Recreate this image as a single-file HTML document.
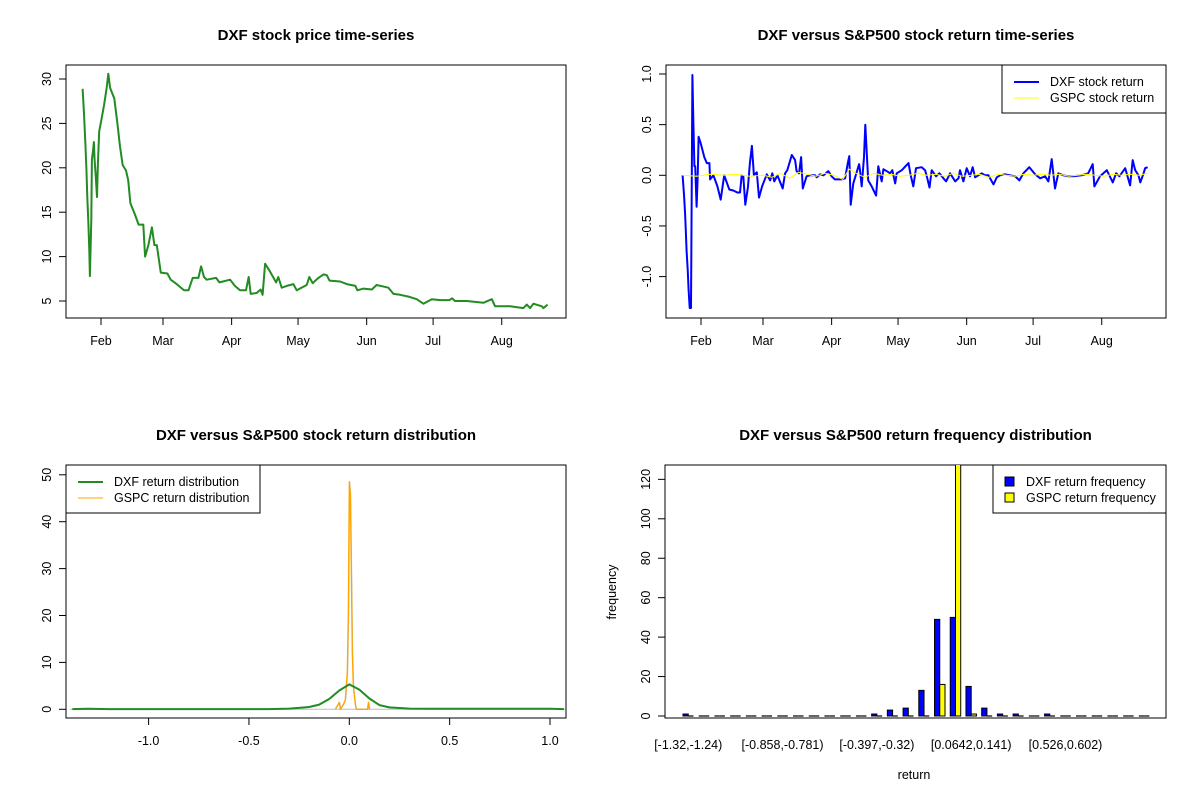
<!DOCTYPE html>
<html><head><meta charset="utf-8"><style>
html,body{margin:0;padding:0;background:#fff;}
svg{display:block;font-family:"Liberation Sans",Arial,sans-serif;}
</style></head><body>
<svg id="chart" width="1200" height="800" viewBox="0 0 1200 800"></svg>
<script>
// ---------- data ----------
const priceDays=[23.7,24.3,24.9,25.4,25.8,26.3,26.7,27,27.6,27.9,28.4,28.8,29.1,29.7,30.2,30.6,31.2,32.2,33.4,34.6,35.3,36.1,38,39.4,40.6,41.8,43.3,44.3,45.3,47.4,49,51.1,51.9,53.4,55,56.1,57.2,59,62,63.5,66.2,69.5,71.5,73.4,76,77.2,78.5,79.7,84,85.5,90.3,92.5,94.8,97.5,98.7,99.6,102.3,104.1,105,106.1,108.4,111.1,112.1,113.6,115.9,118.9,120.4,124.9,126.1,127.6,130.2,132.5,134,135.2,140,143,146.9,147.8,150.5,154.3,156.5,161.8,164.1,167.1,170.9,174.6,177.6,181.4,185.2,189.4,190.6,191.9,197.2,204.7,208.5,210,216.8,222.8,224.3,225.8,227.3,231.1,231.8,233.7];
const priceVals=[28.9,26.1,22.9,19.9,16.7,13.7,10.7,7.8,14.1,20.9,21.9,22.9,20.9,18.8,16.7,20.5,24.1,25.4,27.1,29.1,30.6,29,27.8,25,22.4,20.3,19.7,18.6,16,14.7,13.6,13.6,10,11.3,13.3,11.3,11.3,8.2,8.1,7.4,6.9,6.2,6.2,7.6,7.6,8.9,7.7,7.4,7.6,7.1,7.4,6.7,6.2,6.2,7.7,5.8,5.9,6.3,5.7,9.2,8.3,7.1,7.7,6.5,6.7,6.9,6.2,6.8,7.7,7.0,7.6,8.0,7.9,7.3,7.2,6.9,6.7,6.2,6.4,6.3,6.8,6.5,5.8,5.7,5.5,5.2,4.7,5.2,5.1,5.1,5.3,5.0,5.0,4.8,5.2,4.4,4.4,4.2,4.6,4.2,4.7,4.4,4.2,4.6];
const priceTicks=[5,10,15,20,25,30];
const monthNames=["Feb","Mar","Apr","May","Jun","Jul","Aug"];
const monthDays=[32,60,91,121,152,182,213];
const retDays=[23.7,24.3,24.8,25.2,25.5,26.0,26.4,26.9,27.5,27.8,28.1,28.5,29.0,29.4,30.0,30.5,30.9,31.8,33.5,34.6,35.8,36.1,37.6,39.4,40.9,42.5,44.8,46.6,48.4,49.6,50.4,51.1,52.0,53.2,54.1,55.0,55.9,57.2,58.2,59.6,61.7,63.2,64.2,65.1,66.5,68.9,70.0,71.0,73.0,74.5,75.2,76.3,77.2,78.0,79.7,81.2,83.5,84.3,85.8,87.3,89.5,91.0,92.5,95.6,97.1,98.3,99.0,99.6,100.8,103.4,103.8,104.6,105.6,106.2,107.5,109.1,111.1,112.1,113.6,114.4,115.9,117.4,118.4,119.7,120.4,122.7,125.7,126.7,127.9,129.1,131.7,133.2,134.0,135.2,136.2,138.2,139.7,141.5,142.7,144.5,146.8,148.3,149.0,150.5,152.0,153.5,154.7,155.8,157.3,158.8,160.3,161.8,164.1,165.6,167.1,169.3,171.6,173.9,175.8,177.6,180.3,182.9,185.2,187.4,188.9,190.4,191.9,193.4,195.7,197.9,200.2,203.9,206.9,208.9,209.7,212.2,215.3,218.0,219.5,221.0,223.6,225.8,227.0,228.1,229.6,230.4,231.9,232.6,233.7];
const retDXF=[0,-0.19,-0.38,-0.57,-0.75,-0.93,-1.13,-1.31,-1.31,-0.18,0.99,0.55,0.09,0.09,-0.31,-0.01,0.38,0.32,0.18,0.12,0.12,-0.04,0.0,-0.11,-0.24,0.0,-0.14,-0.15,-0.17,-0.17,0.0,-0.01,-0.29,-0.12,0.12,0.29,0.0,0.03,-0.22,-0.11,0.01,-0.05,0.02,-0.06,0.0,-0.13,0.02,0.05,0.20,0.15,0.04,0.02,0.18,-0.13,-0.01,0.0,0.0,-0.02,0.01,0.0,0.04,-0.01,-0.04,-0.04,-0.03,0.12,0.19,-0.29,-0.08,0.11,0.05,-0.11,0.18,0.5,-0.05,-0.11,-0.2,0.09,-0.06,0.06,0.04,0.02,0.05,-0.08,0.02,0.05,0.12,0.0,-0.11,0.07,0.08,0.05,-0.01,-0.12,0.05,-0.01,0.02,-0.03,-0.06,0.02,-0.06,-0.03,0.05,-0.06,0.07,-0.01,0.08,-0.02,0.0,0.02,0.0,0.0,-0.09,-0.02,0.0,0.01,0.0,-0.01,-0.05,0.02,0.08,0.01,-0.03,-0.01,-0.06,0.16,-0.13,0.02,0.0,-0.01,-0.01,0.0,0.02,0.11,-0.11,-0.01,0.05,-0.07,0.02,-0.01,0.07,-0.1,0.15,0.05,0.0,-0.07,0.02,0.07,0.08];
const gspcDays=[23.7,30,36,42,48,54,60,64,68,72,76,80,84,88,92,96,99,102,106,110,114,118,122,126,130,134,138,142,146,150,154,158,162,166,170,174,178,182,186,190,194,198,202,206,210,214,218,222,226,230,233.7];
const retGSPC=[0,-0.01,0.01,0.0,0.01,-0.01,0.0,-0.02,0.02,-0.03,0.03,0.01,-0.01,0.02,0.0,-0.04,0.06,0.02,-0.02,0.02,0.0,0.01,-0.01,0.0,0.02,0.0,0.01,-0.01,0.02,-0.01,0.0,0.01,-0.02,0.01,0.0,-0.01,0.01,0.0,0.01,0.0,0.01,-0.01,0.0,0.01,0.0,-0.01,0.01,0.0,0.01,0.0,0.02];
const retTicks=[-1.0,-0.5,0.0,0.5,1.0];
const densX=[-1.38,-1.3,-1.2,-0.4,-0.3,-0.25,-0.2,-0.15,-0.1,-0.05,0,0.05,0.1,0.15,0.2,0.3,0.4,0.5,1.0,1.07];
const densDXF=[0.05,0.1,0.05,0.05,0.15,0.3,0.5,1.0,2.2,4.0,5.3,4.2,2.3,0.9,0.4,0.15,0.1,0.1,0.1,0.05];
const gspcX=[-0.07,-0.05,-0.045,-0.03,-0.02,-0.01,-0.005,0,0.005,0.01,0.015,0.02,0.03,0.035,0.09,0.095,0.1];
const densGSPC=[0,1.5,0,1,2,8,20,48.5,46,30,12,5,1,0,0,1.5,0];
const densXTicks=[-1.0,-0.5,0.0,0.5,1.0];
const densYTicks=[0,10,20,30,40,50];
const freqDXF=[1,0,0,0,0,0,0,0,0,0,0,0,1,3,4,13,49,50,15,4,1,1,0,1,0,0,0,0,0,0];
const freqGSPC=[0,0,0,0,0,0,0,0,0,0,0,0,0,0,0,0,16,160,1,0,0,0,0,0,0,0,0,0,0,0];
const binLabels={0:"[-1.32,-1.24)",6:"[-0.858,-0.781)",12:"[-0.397,-0.32)",18:"[0.0642,0.141)",24:"[0.526,0.602)"};
const freqTicks=[0,20,40,60,80,100,120];

// ---------- helpers ----------
const svg=document.getElementById('chart');
const NS="http://www.w3.org/2000/svg";
function mk(tag,attrs,parent){const e=document.createElementNS(NS,tag);for(const k in attrs)e.setAttribute(k,attrs[k]);(parent||svg).appendChild(e);return e;}
function txt(x,y,s,size,opts,parent){const o=Object.assign({x:x,y:y,'font-size':size,'text-anchor':'middle',fill:'#000'},opts||{});const t=mk('text',o,parent);t.textContent=s;return t;}
function fmt1(v){return v.toFixed(1);}

function panel(name,x0,x1,y0,y1,title){
  const g=mk('g',{});
  
  
  const b=mk('rect',{x:x0,y:y0,width:x1-x0,height:y1-y0,fill:'none',stroke:'#000','stroke-width':1},g);
  
  
  const t=txt((x0+x1)/2,y0-25,title,15,{'font-weight':'bold'},g);
  
  
  return g;
}
function yAxis(g,x0,ticks,sy,labf){
  const a=mk('g',{},g);
  
  
  ticks.forEach(v=>{const y=sy(v);mk('line',{x1:x0-7,x2:x0,y1:y,y2:y,stroke:'#000'},a);
    const t=txt(x0-15,y,labf(v),12.5,{transform:`rotate(-90 ${x0-15} ${y})`},a);
    
    });
}
function xAxis(g,y0,vals,labels,sx){
  const a=mk('g',{},g);
  
  
  vals.forEach((v,i)=>{const x=sx(v);mk('line',{x1:x,x2:x,y1:y0,y2:y0+7,stroke:'#000'},a);
    const t=txt(x,y0+27,labels[i],12.5,{},a);
    
    });
}
function poly(g,xs,ys,sx,sy,color,w,name){
  const pts=xs.map((x,i)=>sx(x).toFixed(1)+','+sy(ys[i]).toFixed(1)).join(' ');
  const p=mk('polyline',{points:pts,fill:'none',stroke:color,'stroke-width':w,'stroke-linejoin':'round'},g);
  
  
  return p;
}
function legend(g,x,y,w,h,items){
  const l=mk('g',{},g);
  
  
  mk('rect',{x:x,y:y,width:w,height:h,fill:'#fff',stroke:'#000'},l);
  items.forEach((it,i)=>{const yy=y+17+i*16;
    if(it.box){mk('rect',{x:x+12,y:yy-5,width:9,height:9,fill:it.color,stroke:'#000'},l);}
    else mk('line',{x1:x+12,x2:x+37,y1:yy,y2:yy,stroke:it.color,'stroke-width':it.w},l);
    const t=txt(x+(it.box?33:48),yy+4,it.label,12.5,{'text-anchor':'start'},l);
    
    });
}

// ---------- panel 1 ----------
(function(){
  const X0=66,X1=566,Y0=65,Y1=318;
  const sx=d=>101+(d-32)*2.214, sy=v=>301-(v-5)*8.88;
  const g=panel('price-panel',X0,X1,Y0,Y1,'DXF stock price time-series');
  yAxis(g,X0,priceTicks,sy,v=>String(v));
  xAxis(g,Y1,monthDays,monthNames,sx);
  poly(g,priceDays,priceVals,sx,sy,'#228B22',2,'dxf-price-line');
})();
// ---------- panel 2 ----------
(function(){
  const X0=666,X1=1166,Y0=65,Y1=318;
  const sx=d=>701+(d-32)*2.214, sy=v=>175.3-v*101.3;
  const g=panel('return-panel',X0,X1,Y0,Y1,'DXF versus S&P500 stock return time-series');
  yAxis(g,X0,retTicks,sy,fmt1);
  xAxis(g,Y1,monthDays,monthNames,sx);
  poly(g,retDays,retDXF,sx,sy,'#0000FF',2,'dxf-return-line');
  poly(g,gspcDays,retGSPC,sx,sy,'#FFFF00',1,'gspc-return-line');
  legend(g,1002,65,164,48,[{label:'DXF stock return',color:'#0000FF',w:2},{label:'GSPC stock return',color:'#FFFF00',w:1}]);
})();
// ---------- panel 3 ----------
(function(){
  const X0=66,X1=566,Y0=465,Y1=718;
  const sx=v=>349.3+v*200.7, sy=v=>709.3-v*4.69;
  const g=panel('density-panel',X0,X1,Y0,Y1,'DXF versus S&P500 stock return distribution');
  yAxis(g,X0,densYTicks,sy,v=>String(v));
  xAxis(g,Y1,densXTicks,densXTicks.map(fmt1),sx);
  mk('line',{x1:X0+4,x2:X1-1,y1:sy(0),y2:sy(0),stroke:'#bebebe'},g);
  poly(g,gspcX.map(v=>v+0.002),densGSPC,sx,sy,'#bebebe',1,'gspc-density-outline');
  poly(g,gspcX,densGSPC,sx,sy,'#FFA500',1.3,'gspc-density-line');
  poly(g,densX,densDXF,sx,sy,'#228B22',2,'dxf-density-line');
  legend(g,66,465,194,48,[{label:'DXF return distribution',color:'#228B22',w:2},{label:'GSPC return distribution',color:'#FFA500',w:1}]);
})();
// ---------- panel 4 ----------
(function(){
  const X0=665,X1=1166,Y0=465,Y1=718;
  const unit=5.24, start=683;
  const sy=v=>716-v*1.972;
  const g=panel('histogram-panel',X0,X1,Y0,Y1,'DXF versus S&P500 return frequency distribution');
  yAxis(g,X0,freqTicks,sy,v=>String(v));
  const clip=mk('clipPath',{id:'c4'},g);
  mk('rect',{x:X0,y:Y0,width:X1-X0,height:Y1-Y0},clip);
  const bars=mk('g',{'clip-path':'url(#c4)'},g);
  
  
  function bar(x,v,color,name){
    if(v<=0){const l=mk('line',{x1:x,x2:x+unit,y1:sy(0),y2:sy(0),stroke:'#000','stroke-width':1.2},bars);
      
      return;}
    const r=mk('rect',{x:x,y:sy(v),width:unit,height:sy(0)-sy(v),fill:color,stroke:'#000','stroke-width':1},bars);
    
    
  }
  freqDXF.forEach((v,i)=>{
    const x=start+i*3*unit;
    bar(x,v,'#0000FF','bar-dxf');
    bar(x+unit,freqGSPC[i],'#FFFF00','bar-gspc');
  });
  for(const k in binLabels){const i=+k;const t=txt(start+i*3*unit+unit,749,binLabels[k],12.5,{},g);
    
    }
  const xt=txt(914,779,'return',12.5,{},g);
  
  
  const yt=txt(616,592,'frequency',12.5,{transform:'rotate(-90 616 592)'},g);
  
  
  legend(g,993,465,173,48,[{label:'DXF return frequency',color:'#0000FF',box:true},{label:'GSPC return frequency',color:'#FFFF00',box:true}]);
})();
</script>
</body></html>
